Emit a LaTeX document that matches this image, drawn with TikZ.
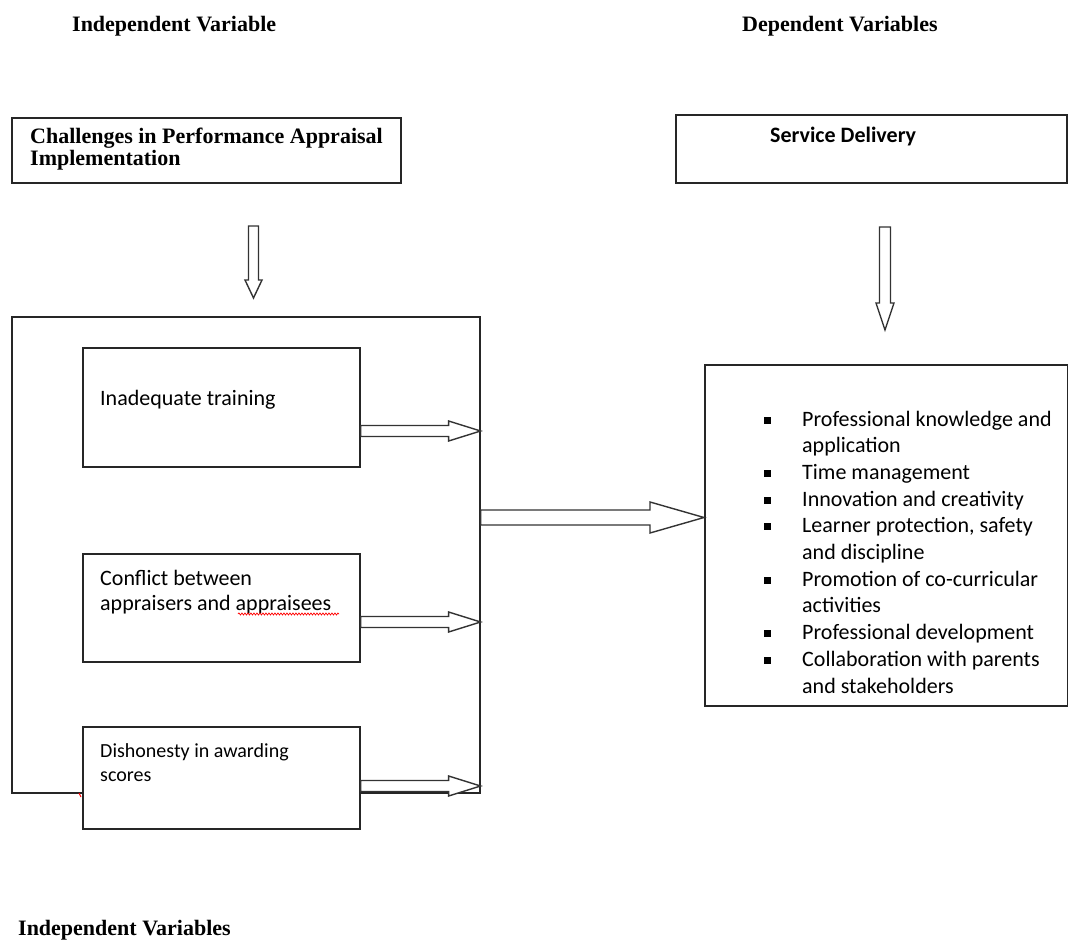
\documentclass[tikz,border=0pt]{standalone}
\usepackage{fontspec}
\setmainfont{Liberation Serif}
\newfontfamily\calibri{Carlito}
\usetikzlibrary{calc,decorations.pathmorphing}
\tikzset{
  box/.style={draw=black!85, line width=1.6pt, fill=white, inner sep=0pt, anchor=north west},
  head/.style={font=\fontsize{22}{23}\selectfont\bfseries, anchor=base west, inner sep=0pt},
  body/.style={font=\calibri\fontsize{22}{26}\selectfont, anchor=base west, inner sep=0pt},
  small/.style={font=\calibri\fontsize{20}{24}\selectfont, anchor=base west, inner sep=0pt},
  bodybold/.style={font=\calibri\bfseries\fontsize{22}{26}\selectfont, anchor=base west, inner sep=0pt},
  fat/.style={draw=black!80, line width=1.4pt, fill=white, line join=miter},
  bul/.style={fill=black, inner sep=0pt, minimum width=6.5pt, minimum height=7pt},
  spell/.style={red, line width=0.7pt, decorate, decoration={snake, amplitude=1pt, segment length=3pt}}
}
% horizontal hollow arrow: start, tip, shaft half width, head half width, head length
\newcommand\myhfat[5]{%
  \draw[fat] ($(#1)+(0,#3)$) -- ($(#2)+(-#5,#3)$) -- ($(#2)+(-#5,#4)$) -- (#2)
    -- ($(#2)+(-#5,-#4)$) -- ($(#2)+(-#5,-#3)$) -- ($(#1)+(0,-#3)$) -- cycle;}
% vertical (downward) hollow arrow
\newcommand\myvfat[5]{%
  \draw[fat] ($(#1)+(-#3,0)$) -- ($(#2)+(-#3,-#5)$) -- ($(#2)+(-#4,-#5)$) -- (#2)
    -- ($(#2)+(#4,-#5)$) -- ($(#2)+(#3,-#5)$) -- ($(#1)+(#3,0)$) -- cycle;}
\begin{document}
\begin{tikzpicture}[x=1pt, y=-1pt]
\useasboundingbox (0,0) rectangle (1068,941);

% headings
\node[head] (h1) at (72,32) {Independent Variable};
\node[head] (h2) at (742,32) {Dependent Variables};
\node[head] (h3) at (18,935) {Independent Variables};

% top boxes
\node[box, minimum width=389pt, minimum height=65pt] (chal) at (11,117) {};
\node[head] (chalA) at (30,144) {Challenges in Performance Appraisal};
\node[head] (chalB) at (30,166) {Implementation};

\node[box, minimum width=391pt, minimum height=68pt] (serv) at (675,114) {};
\node[bodybold] (servT) at (770,143) {Service Delivery};

% outer box and inner boxes
\node[box, minimum width=468pt, minimum height=476pt] (outer) at (11,316) {};
\node[box, minimum width=277pt, minimum height=119pt] (train) at (82,347) {};
\node[body] (trainT) at (100,405) {Inadequate training};

\node[box, minimum width=277pt, minimum height=108pt] (conf) at (82,553) {};
\node[body] (confA) at (100,585) {Conflict between};
\node[body] (confB) at (100,610) {appraisers and appraisees};
\draw[spell] (238,614) -- (339,614);

\node[box, minimum width=277pt, minimum height=102pt] (dish) at (82,726) {};
\node[small] (dishA) at (100,757) {Dishonesty in awarding};
\node[small] (dishB) at (100,781) {scores};
\draw[red, line width=1pt] (79,793) -- (81,797);

% right list box
\node[box, minimum width=362.5pt, minimum height=341pt] (list) at (704,364) {};
\foreach \t [count=\i from 0] in {Professional knowledge and, application, Time management,
  Innovation and creativity, {Learner protection, safety}, and discipline,
  Promotion of co-curricular, activities, Professional development,
  Collaboration with parents, and stakeholders}{
  \node[body] (li\i) at (802,426+26.7*\i) {\t};
}
\foreach \i in {0,2,3,4,6,8,9}{
  \node[bul] (b\i) at (767.5,420+26.7*\i) {};
}

% arrows
\coordinate (d1s) at (253.5,226);
\coordinate (d1e) at (253.5,298);
\myvfat{d1s}{d1e}{5}{8.5}{18}
\coordinate (d2s) at (885,227);
\coordinate (d2e) at (885,330);
\myvfat{d2s}{d2e}{5.5}{9}{27}

\myhfat{train.east |- 0,431}{outer.east |- 0,431}{5.5}{10}{32}
\myhfat{conf.east |- 0,622}{outer.east |- 0,622}{5.5}{10}{32}
\myhfat{dish.east |- 0,786}{outer.east |- 0,786}{5.5}{10}{32}
\myhfat{outer.east |- 0,517.5}{list.west |- 0,517.5}{7.5}{15.5}{54}
\end{tikzpicture}
\end{document}
